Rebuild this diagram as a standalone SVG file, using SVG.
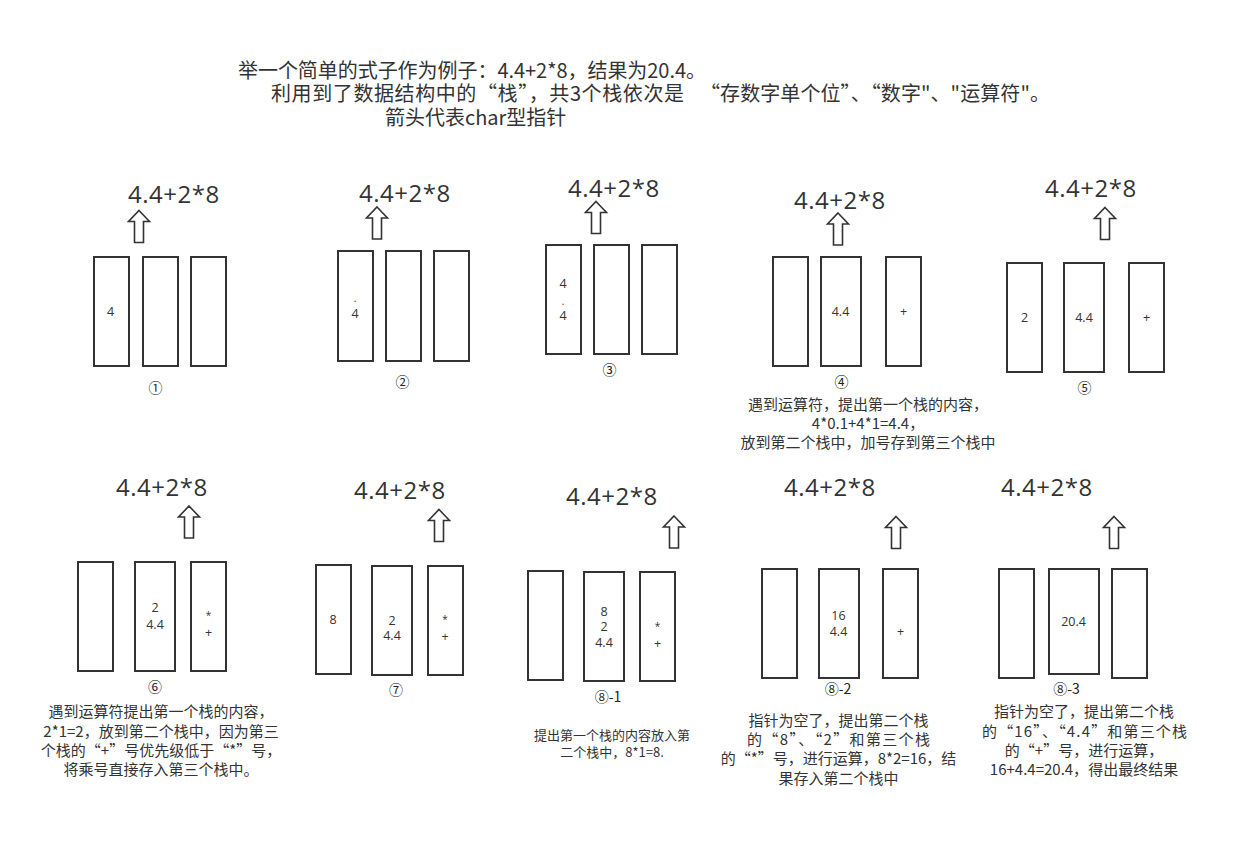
<svg xmlns="http://www.w3.org/2000/svg" xmlns:xlink="http://www.w3.org/1999/xlink" width="1241" height="841" viewBox="0 0 1241 841">
<style>
text{fill:#333;font-family:"Noto Sans CJK SC","Open Sans",sans-serif}
.hd{font-size:20px}
.f{font-family:"Open Sans","Noto Sans CJK SC",sans-serif;font-size:24px;letter-spacing:0.5px}
.s{font-family:"Open Sans","Noto Sans CJK SC",sans-serif;font-size:12.5px;text-anchor:middle}
.st{font-family:"Open Sans","Noto Sans CJK SC",sans-serif;font-size:10px;text-anchor:middle}
.n{font-size:14px;text-anchor:middle;fill:#222}
.d{font-size:15px;text-anchor:middle}
.d2{font-size:13px;text-anchor:middle}
.b{fill:#fff;stroke:#333;stroke-width:2}
.a{fill:#fff;stroke:#333;stroke-width:1.6;stroke-linejoin:miter}
</style>
<defs>
<path id="arr" d="M0,0 L10.5,11 L4.5,11 L4.5,32 L-4.5,32 L-4.5,11 L-10.5,11 Z"/>
</defs>
<rect width="1241" height="841" fill="#fff"/>
<g id="header">
<text class="hd" x="238" y="78" textLength="468" lengthAdjust="spacing">举一个简单的式子作为例子：4.4+2*8，结果为20.4。</text>
<text class="hd" x="271" y="101" textLength="413" lengthAdjust="spacing">利用到了数据结构中的“栈”，共3个栈依次是</text>
<text class="hd" x="700" y="101" textLength="350" lengthAdjust="spacing">“存数字单个位”、“数字"、"运算符"。</text>
<text class="hd" x="385" y="125">箭头代表char型指针</text>
</g>

<g id="step1">
<text class="f" x="128" y="203">4.4+2*8</text>
<use xlink:href="#arr" class="a" transform="translate(139,210.5)"/>
<rect class="b" x="94" y="257" width="35" height="109"/>
<rect class="b" x="143" y="257" width="35" height="109"/>
<rect class="b" x="191" y="257" width="35" height="109"/>
<text class="s" x="110.5" y="316">4</text>
<text class="n" x="155.5" y="393">①</text>
</g>

<g id="step2">
<text class="f" x="359" y="202">4.4+2*8</text>
<use xlink:href="#arr" class="a" transform="translate(377,207)"/>
<rect class="b" x="338" y="251" width="35" height="110"/>
<rect class="b" x="386" y="251" width="35" height="110"/>
<rect class="b" x="434" y="251" width="35" height="110"/>
<text class="st" x="355" y="302">.</text>
<text class="s" x="355" y="317.5">4</text>
<text class="n" x="402.5" y="386.5">②</text>
</g>

<g id="step3">
<text class="f" x="568" y="197">4.4+2*8</text>
<use xlink:href="#arr" class="a" transform="translate(596,201.5)"/>
<rect class="b" x="546" y="245" width="35" height="109"/>
<rect class="b" x="594" y="245" width="35" height="109"/>
<rect class="b" x="642" y="245" width="35" height="109"/>
<text class="s" x="563" y="288">4</text>
<text class="st" x="563" y="305">.</text>
<text class="s" x="563" y="320">4</text>
<text class="n" x="609.5" y="375">③</text>
</g>

<g id="step4">
<text class="f" x="794" y="209">4.4+2*8</text>
<use xlink:href="#arr" class="a" transform="translate(838,213)"/>
<rect class="b" x="773" y="257" width="35" height="109"/>
<rect class="b" x="821" y="257" width="40" height="109"/>
<rect class="b" x="886" y="257" width="35" height="109"/>
<text class="s" x="840.5" y="316">4.4</text>
<text class="s" x="903.5" y="316">+</text>
<text class="n" x="841.5" y="386.5">④</text>
<text class="d" x="868" y="409.5">遇到运算符，提出第一个栈的内容，</text>
<text class="d" x="868" y="428.5">4*0.1+4*1=4.4，</text>
<text class="d" x="868" y="447.5">放到第二个栈中，加号存到第三个栈中</text>
</g>

<g id="step5">
<text class="f" x="1045" y="197">4.4+2*8</text>
<use xlink:href="#arr" class="a" transform="translate(1105,207.5)"/>
<rect class="b" x="1007" y="263" width="35" height="109"/>
<rect class="b" x="1064" y="263" width="40" height="109"/>
<rect class="b" x="1129" y="263" width="35" height="109"/>
<text class="s" x="1024.5" y="322">2</text>
<text class="s" x="1084" y="322">4.4</text>
<text class="s" x="1146.5" y="322">+</text>
<text class="n" x="1084.5" y="393">⑤</text>
</g>

<g id="step6">
<text class="f" x="116" y="496">4.4+2*8</text>
<use xlink:href="#arr" class="a" transform="translate(189,506)"/>
<rect class="b" x="78" y="562" width="35" height="109"/>
<rect class="b" x="135" y="562" width="40" height="109"/>
<rect class="b" x="191" y="562" width="35" height="109"/>
<text class="s" x="155" y="612">2</text>
<text class="s" x="155" y="628.5">4.4</text>
<text class="st" x="208.5" y="619">*</text>
<text class="s" x="208.5" y="636.5">+</text>
<text class="n" x="155" y="691.5">⑥</text>
<text class="d" x="161" y="717">遇到运算符提出第一个栈的内容，</text>
<text class="d" x="161" y="736.5">2*1=2，放到第二个栈中，因为第三</text>
<text class="d" x="161" y="755.5">个栈的“+”号优先级低于“*”号，</text>
<text class="d" x="161" y="775">将乘号直接存入第三个栈中。</text>
</g>

<g id="step7">
<text class="f" x="354" y="498.5">4.4+2*8</text>
<use xlink:href="#arr" class="a" transform="translate(439,509.5)"/>
<rect class="b" x="316" y="565" width="35" height="109"/>
<rect class="b" x="372" y="566" width="40" height="109"/>
<rect class="b" x="428" y="566" width="35" height="109"/>
<text class="s" x="333" y="623.5">8</text>
<text class="s" x="392" y="624.5">2</text>
<text class="s" x="392" y="640">4.4</text>
<text class="st" x="445" y="623">*</text>
<text class="s" x="445" y="641">+</text>
<text class="n" x="396" y="695">⑦</text>
</g>

<g id="step8-1">
<text class="f" x="566" y="505">4.4+2*8</text>
<use xlink:href="#arr" class="a" transform="translate(674,516)"/>
<rect class="b" x="528" y="571" width="35" height="109"/>
<rect class="b" x="584" y="572" width="40" height="109"/>
<rect class="b" x="640" y="572" width="35" height="109"/>
<text class="s" x="604" y="615.5">8</text>
<text class="s" x="604" y="631">2</text>
<text class="s" x="604" y="647">4.4</text>
<text class="st" x="657.5" y="629.5">*</text>
<text class="s" x="657.5" y="647.5">+</text>
<text class="n" x="608" y="701.5">⑧-1</text>
<text class="d2" x="612" y="740">提出第一个栈的内容放入第</text>
<text class="d2" x="612" y="756.5">二个栈中，8*1=8.</text>
</g>

<g id="step8-2">
<text class="f" x="784" y="496">4.4+2*8</text>
<use xlink:href="#arr" class="a" transform="translate(896,516.5)"/>
<rect class="b" x="762" y="569" width="35" height="109"/>
<rect class="b" x="819" y="569" width="40" height="109"/>
<rect class="b" x="883" y="569" width="35" height="109"/>
<text class="s" x="838.5" y="619.5">16</text>
<text class="s" x="838.5" y="636">4.4</text>
<text class="s" x="900.5" y="636">+</text>
<text class="n" x="838" y="694">⑧-2</text>
<text class="d" x="838.5" y="726">指针为空了，提出第二个栈</text>
<text class="d" x="747" y="745" style="text-anchor:start" textLength="183" lengthAdjust="spacing">的“8”、“2”和第三个栈</text>
<text class="d" x="838.5" y="764">的“*”号，进行运算，8*2=16，结</text>
<text class="d" x="838.5" y="783.5">果存入第二个栈中</text>
</g>

<g id="step8-3">
<text class="f" x="1001" y="496">4.4+2*8</text>
<use xlink:href="#arr" class="a" transform="translate(1114,516.5)"/>
<rect class="b" x="999" y="569" width="35" height="109"/>
<rect class="b" x="1049" y="569" width="50" height="105"/>
<rect class="b" x="1112" y="569" width="35" height="109"/>
<text class="s" x="1073.5" y="626">20.4</text>
<text class="n" x="1066.5" y="694">⑧-3</text>
<text class="d" x="1084" y="717">指针为空了，提出第二个栈</text>
<text class="d" x="982" y="736.5" style="text-anchor:start" textLength="205" lengthAdjust="spacing">的“16”、“4.4”和第三个栈</text>
<text class="d" x="1084" y="755.5">的“+”号，进行运算，</text>
<text class="d" x="1084" y="774.5">16+4.4=20.4，得出最终结果</text>
</g>
<g id="connectors"/>
</svg>
